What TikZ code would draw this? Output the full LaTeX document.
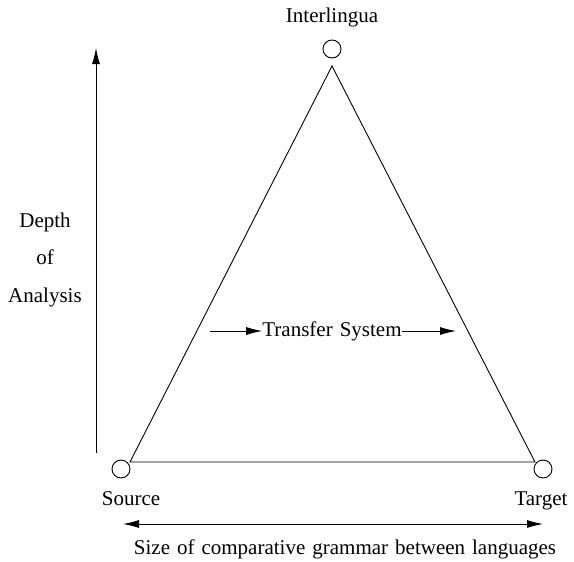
\documentclass[tikz,border=0pt]{standalone}
\usepackage{fontspec}
\setmainfont{Liberation Serif}
\newfontfamily\tms{Liberation Serif}
\newcommand\lblfont{\tms\fontsize{21}{24}\selectfont\spaceskip=7pt\relax}
\usetikzlibrary{arrows.meta}
\begin{document}
\begin{tikzpicture}[x=1pt,y=-1pt,
  lbl/.style={font=\lblfont, inner sep=0pt, anchor=base},
  vtx/.style={circle, draw, line width=0.9pt, minimum size=18pt, inner sep=0pt},
  ln/.style={line width=0.9pt},
  arr/.style={ln, -{Latex[length=16pt,width=8pt]}},
  darr/.style={ln, {Latex[length=16pt,width=8pt]}-{Latex[length=16pt,width=8pt]}}]
\useasboundingbox (0,0) rectangle (574,562);
% vertices
\node[vtx] (ci) at (332,49) {};
\node[vtx] (cs) at (121,469) {};
\node[vtx] (ct) at (543,469) {};
\coordinate (A) at (332,66);
\coordinate (L) at (130,462);
\coordinate (R) at (535,462);
\draw[ln] (L) -- (A) -- (R) -- cycle;
% labels
\node[lbl] (il) at (332,22) {Interlingua};
\node[lbl] (src) at (131,505) {Source};
\node[lbl] (tgt) at (541,505) {Target};
\node[lbl] (sz) at (345,554) {Size of comparative grammar between languages};
\node[lbl] (d1) at (45,227) {Depth};
\node[lbl] (d2) at (45,264) {of};
\node[lbl] (d3) at (45,302) {Analysis};
% transfer system
\node[lbl, anchor=center] (ts) at (332,331) {Transfer System};
\coordinate (tl) at (210,331);
\coordinate (tr) at (456,331);
\draw[arr] (tl) -- (ts.west);
\draw[arr] (ts.east) -- (tr);
% axes
\coordinate (vb) at (96,453);
\coordinate (vt) at (96,48);
\draw[arr] (vb) -- (vt);
\coordinate (hl) at (123,524);
\coordinate (hr) at (543,524);
\draw[darr] (hl) -- (hr);
\end{tikzpicture}
\end{document}
